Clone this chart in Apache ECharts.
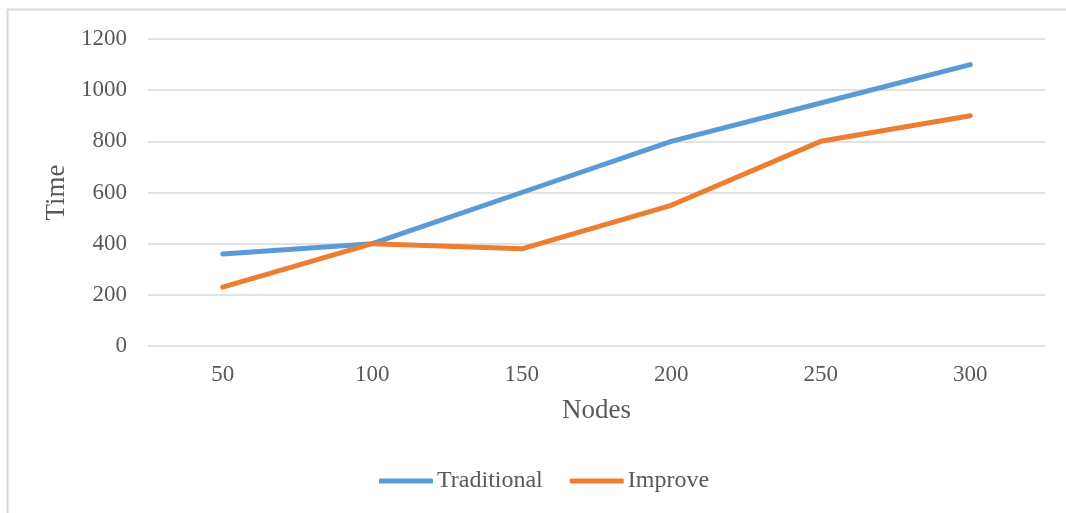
<!DOCTYPE html>
<html>
<head>
<meta charset="utf-8">
<script src="https://cdn.jsdelivr.net/npm/echarts@6/dist/echarts.min.js"></script>
<style>
  html, body { margin: 0; padding: 0; background: #fff; }
  #chart { width: 1066px; height: 513px; }
</style>
</head>
<body>
<div id="chart"></div>
<script>
// data
const nodes = ["50", "100", "150", "200", "250", "300"];
const traditional = [360, 400, 600, 800, 950, 1100];
const improve = [230, 400, 380, 550, 800, 900];

const FONT = "Liberation Serif";
const TXT = "#595959";

const chart = echarts.init(document.getElementById("chart"));
chart.setOption({
  animation: false,
  textStyle: { fontFamily: FONT, color: TXT },
  graphic: [{
    type: "rect",
    shape: { x: 7.5, y: 9.5, width: 1200, height: 700 },
    style: { fill: "none", stroke: "#d9d9d9", lineWidth: 2 },
    silent: true
  }],
  grid: { left: 148, right: 21, top: 39, bottom: 167 },
  legend: {
    bottom: 15,
    left: 374,
    itemWidth: 54,
    itemHeight: 5,
    itemGap: 27,
    icon: "roundRect",
    textStyle: { fontFamily: FONT, fontSize: 24, color: TXT, padding: [0, 0, 0, -1] },
    data: ["Traditional", "Improve"]
  },
  xAxis: {
    type: "category",
    data: nodes,
    name: "Nodes",
    nameLocation: "middle",
    nameGap: 51,
    nameTextStyle: { fontFamily: FONT, fontSize: 27, color: TXT },
    axisLine: { show: false },
    axisTick: { show: false },
    axisLabel: { fontFamily: FONT, fontSize: 23, color: TXT, margin: 17 }
  },
  yAxis: {
    type: "value",
    min: 0,
    max: 1200,
    interval: 200,
    name: "Time",
    nameLocation: "middle",
    nameGap: 68,
    nameTextStyle: { fontFamily: FONT, fontSize: 27, color: TXT },
    axisLine: { show: false },
    axisTick: { show: false },
    axisLabel: { fontFamily: FONT, fontSize: 23, color: TXT, margin: 21, formatter: v => String(v) },
    splitLine: { lineStyle: { color: "#d9d9d9", width: 1.5 } }
  },
  series: [
    {
      name: "Traditional",
      type: "line",
      data: traditional,
      symbol: "none",
      lineStyle: { color: "#5b9bd5", width: 5, cap: "round", join: "round" },
      itemStyle: { color: "#5b9bd5" }
    },
    {
      name: "Improve",
      type: "line",
      data: improve,
      symbol: "none",
      lineStyle: { color: "#ed7d31", width: 5, cap: "round", join: "round" },
      itemStyle: { color: "#ed7d31" }
    }
  ]
});
</script>
</body>
</html>
